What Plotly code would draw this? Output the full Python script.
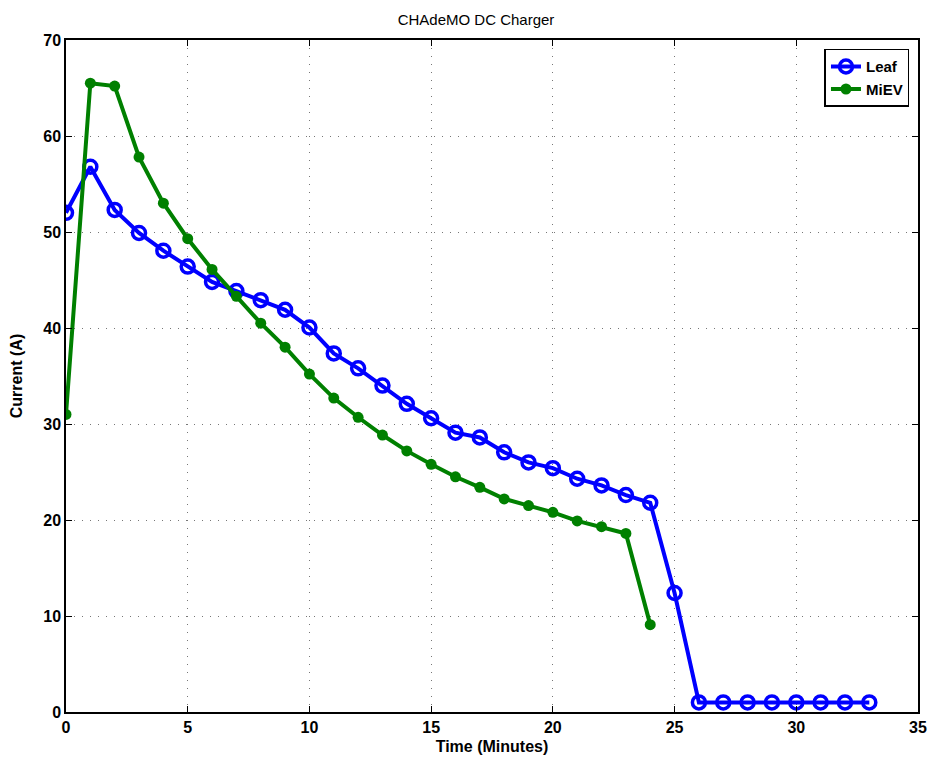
import plotly.graph_objects as go

# Charging current samples, one per minute
time_leaf = list(range(0, 34))
current_leaf = [52.0, 56.8, 52.3, 49.9, 48.05, 46.4, 44.8, 43.85, 42.9, 41.9,
                40.05, 37.35, 35.8, 34.0, 32.1, 30.6, 29.1, 28.6, 27.05, 26.0,
                25.4, 24.3, 23.6, 22.6, 21.8, 12.4, 1.0, 1.0, 1.0, 1.0,
                1.0, 1.0, 1.0, 1.0]

time_miev = list(range(0, 25))
current_miev = [31.0, 65.5, 65.2, 57.8, 53.0, 49.3, 46.1, 43.3, 40.5, 38.0,
                35.2, 32.7, 30.7, 28.85, 27.2, 25.8, 24.5, 23.4, 22.2, 21.5,
                20.8, 19.9, 19.3, 18.6, 9.1]

x_ticks = [0, 5, 10, 15, 20, 25, 30, 35]
y_ticks = [0, 10, 20, 30, 40, 50, 60, 70]

FONT = 'Liberation Sans, Arial'

fig = go.Figure()

fig.add_trace(go.Scatter(
    x=time_leaf, y=current_leaf, mode='lines+markers', name='Leaf',
    line=dict(color='#0000ff', width=4),
    marker=dict(symbol='circle-open', size=13, color='#0000ff',
                line=dict(width=3.5, color='#0000ff'))
))

fig.add_trace(go.Scatter(
    x=time_miev, y=current_miev, mode='lines+markers', name='MiEV',
    line=dict(color='#008000', width=4),
    marker=dict(symbol='circle', size=11, color='#008000')
))

axis_common = dict(
    showline=True, linecolor='black', linewidth=1.5, mirror='ticks',
    ticks='inside', ticklen=6, tickcolor='black',
    showgrid=True, gridcolor='#777777', griddash='1px,7px', gridwidth=1,
    zeroline=False, automargin=False,
    tickfont=dict(family=FONT, size=16, color='black', weight='bold'),
)

# page body has an 8px margin, so plot margins are shifted to compensate
fig.update_layout(
    width=936, height=769,
    margin=dict(l=58, r=26, t=32, b=65),
    paper_bgcolor='white', plot_bgcolor='white',
    title=dict(text='CHAdeMO DC Charger', x=0.5, xanchor='center',
               y=0.985, yanchor='middle',
               font=dict(family=FONT, size=15, color='black')),
    xaxis=dict(range=[0, 35], tickvals=x_ticks, **axis_common,
               title=dict(text='Time (Minutes)', standoff=6,
                          font=dict(family=FONT, size=16, color='black', weight='bold'))),
    yaxis=dict(range=[0, 70], tickvals=y_ticks, **axis_common,
               title=dict(text='Current (A)', standoff=20,
                          font=dict(family=FONT, size=16, color='black', weight='bold'))),
    legend=dict(x=0.99, y=0.987, xanchor='right', yanchor='top',
                bgcolor='white', bordercolor='black', borderwidth=1.5,
                font=dict(family=FONT, size=15, color='black', weight='bold'),
                tracegroupgap=0),
    showlegend=True,
)

fig.write_html("out.html")
